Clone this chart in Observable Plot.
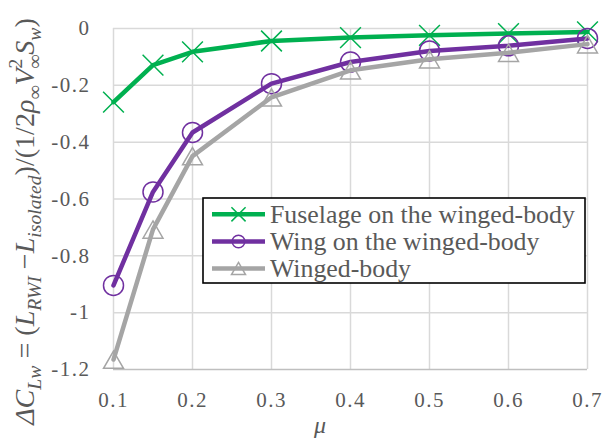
<!DOCTYPE html>
<html>
<head>
<meta charset="utf-8">
<script src="https://cdn.jsdelivr.net/npm/d3@7"></script>
<script src="https://cdn.jsdelivr.net/npm/@observablehq/plot@0.6"></script>
<style>
  html, body { margin: 0; padding: 0; background: #fff; }
  #chart { width: 612px; height: 439px; }
</style>
</head>
<body>
<div id="chart"></div>
<script>
// ---- data ----
const mu = [0.1, 0.15, 0.2, 0.3, 0.4, 0.5, 0.6, 0.7];
const fuselage   = [-0.259, -0.129, -0.082, -0.044, -0.032, -0.024, -0.018, -0.012];
const wing       = [-0.904, -0.575, -0.366, -0.194, -0.118, -0.079, -0.061, -0.035];
const wingedBody = [-1.165, -0.707, -0.449, -0.242, -0.147, -0.108, -0.085, -0.055];
const seriesNames = ["Fuselage on the winged-body", "Wing on the winged-body", "Winged-body"];
const seriesColors = ["#00b050", "#7030a0", "#a5a5a5"];
const seriesSymbols = ["times", "circle", "triangle"];
const xTicks = [0.1, 0.2, 0.3, 0.4, 0.5, 0.6, 0.7];
const yTicks = [0, -0.2, -0.4, -0.6, -0.8, -1, -1.2];
const xLabel = "μ";

const FONT = "Liberation Serif";
const seriesValues = [fuselage, wing, wingedBody];
const data = seriesNames.flatMap((name, i) =>
  mu.map((m, j) => ({mu: m, v: seriesValues[i][j], series: name})));

const markerR = [9.5, 10, 7.4];
const markerDy = [0, 0, 3];

const marks = [
  Plot.ruleX(xTicks, {stroke: "#d9d9d9", strokeWidth: 1.5}),
  Plot.ruleY(yTicks.filter(t => t > -1.2), {stroke: "#d9d9d9", strokeWidth: 1.5}),
  Plot.ruleY([-1.2], {stroke: "#bfbfbf", strokeWidth: 1.5})
];
seriesNames.forEach((name, i) => {
  const d = data.filter(r => r.series === name);
  marks.push(Plot.line(d, {x: "mu", y: "v", stroke: seriesColors[i], strokeWidth: 4.5}));
  marks.push(Plot.dot(d, {x: "mu", y: "v", symbol: seriesSymbols[i], r: markerR[i], dy: markerDy[i],
    stroke: seriesColors[i], strokeWidth: 1.5, fill: "none"}));
});

const chart = Plot.plot({
  width: 612, height: 439,
  marginLeft: 113, marginRight: 25, marginTop: 28, marginBottom: 70,
  x: {domain: [0.1, 0.7], ticks: xTicks, tickSize: 0, tickPadding: 23, tickFormat: d => String(d), label: null},
  y: {domain: [-1.2, 0], ticks: yTicks, tickSize: 0, tickPadding: 23, tickFormat: d => String(d), label: null},
  style: {fontSize: "21px", color: "#595959", background: "#fff"},
  marks
});
document.getElementById("chart").appendChild(chart);

const svg = d3.select(chart);
svg.attr("font-family", FONT);
const textColor = "#595959";

// x-axis label
svg.append("text").attr("x", 320).attr("y", 433).attr("text-anchor", "middle")
  .attr("font-style", "italic")
  .attr("font-size", 24).attr("fill", textColor).text(xLabel);

// y-axis label (math)
const yParts = [
  {t: "ΔC", it: true, pos: "n"}, {t: "Lw", it: true, pos: "sub"},
  {t: " = (", it: false, pos: "n"}, {t: "L", it: true, pos: "n"}, {t: "RWI", it: true, pos: "sub"},
  {t: " −", it: false, pos: "n"}, {t: "L", it: true, pos: "n"}, {t: "isolated", it: true, pos: "sub"},
  {t: ")/(1/2", it: false, pos: "n"}, {t: "ρ", it: true, pos: "n"}, {t: "∞", it: false, pos: "sub"},
  {t: "V", it: true, pos: "n"}, {t: "2", it: false, pos: "sup"}, {t: "∞", it: false, pos: "sub", back: 0.36},
  {t: "S", it: true, pos: "n"}, {t: "w", it: true, pos: "sub"}, {t: ")", it: false, pos: "n"}
];
const yl = svg.append("text")
  .attr("transform", "translate(34,221.5) rotate(-90)")
  .attr("text-anchor", "middle")
  .attr("fill", textColor);
function forceFont(sel) {
  sel.each(function () { this.style.setProperty("font-family", FONT, "important"); });
}
function buildMath(fs) {
  yl.selectAll("tspan").remove();
  let cur = 0;
  for (const p of yParts) {
    const size = p.pos === "n" ? fs : fs * 0.7;
    const off = p.pos === "sub" ? fs * 0.25 : p.pos === "sup" ? -fs * 0.42 : 0;
    const ts = yl.append("tspan").text(p.t).attr("font-size", size).attr("font-family", FONT)
      .attr("font-style", p.it ? "italic" : "normal").attr("dy", off - cur);
    if (p.back) ts.attr("dx", -p.back * fs);
    forceFont(ts);
    cur = off;
  }
}

// legend
const lg = svg.append("g");
lg.append("rect").attr("x", 203).attr("y", 198).attr("width", 382).attr("height", 85)
  .attr("fill", "#fff").attr("stroke", "#000").attr("stroke-width", 1.6);
const rowY = [214.3, 241.5, 268.5];
const legendTexts = [];
seriesNames.forEach((name, i) => {
  const y = rowY[i];
  lg.append("line").attr("x1", 212).attr("x2", 265).attr("y1", y).attr("y2", y)
    .attr("stroke", seriesColors[i]).attr("stroke-width", 4.5);
  const symType = [d3.symbolTimes, d3.symbolCircle, d3.symbolTriangle][i];
  const rr = [6.5, 6.3, 5.2][i];
  lg.append("path").attr("d", d3.symbol(symType, Math.PI * rr * rr)())
    .attr("transform", `translate(238.5,${y + (i === 2 ? 2 : 0)})`)
    .attr("fill", "none").attr("stroke", seriesColors[i]).attr("stroke-width", 1.5);
  legendTexts.push(lg.append("text").attr("x", 270).attr("y", y).attr("dy", "0.33em")
    .attr("text-anchor", "start").attr("font-size", 22)
    .attr("fill", textColor).text(name));
});

// serif font on every text element
svg.selectAll("text").attr("font-family", FONT);
forceFont(svg.selectAll("text"));
svg.selectAll("g[aria-label$='tick label'] text").attr("letter-spacing", "1.5");

let fs = 21;
buildMath(fs);
const len = yl.node().getComputedTextLength();
fs = fs * 417 / len;
buildMath(fs);

const lw = legendTexts[0].node().getComputedTextLength();
const lfs = 22 * 305 / lw;
legendTexts.forEach(t => t.attr("font-size", lfs));
</script>
</body>
</html>
